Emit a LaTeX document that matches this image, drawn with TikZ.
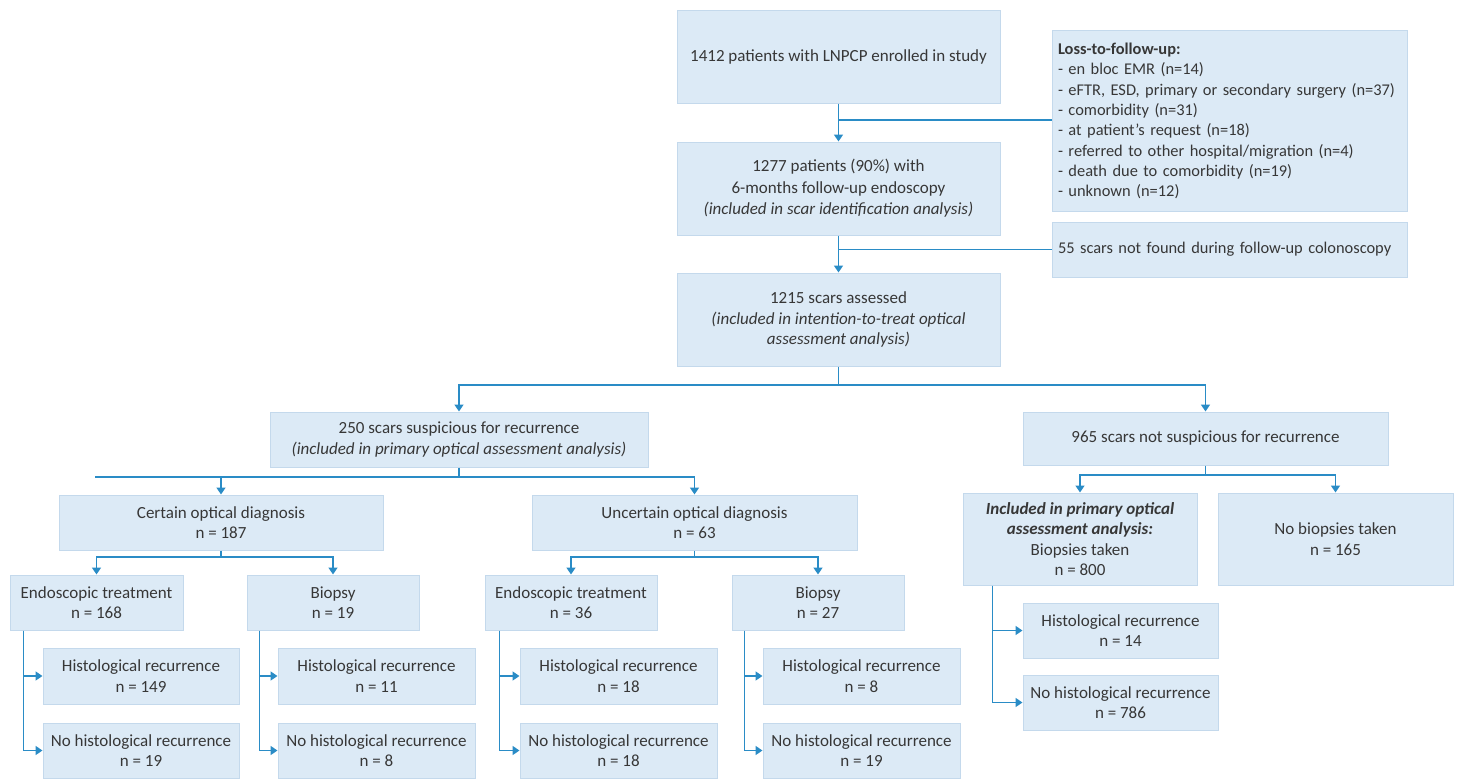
\documentclass[tikz,border=0pt]{standalone}
\usepackage{fontspec}
\setmainfont{Carlito}
\usetikzlibrary{arrows.meta}
\definecolor{boxfill}{RGB}{220,234,246}
\definecolor{boxline}{RGB}{196,217,236}
\definecolor{conn}{RGB}{42,140,198}
\definecolor{txt}{RGB}{55,55,55}
\tikzset{
  bx/.style={draw=boxline, line width=1pt, fill=boxfill, text=txt, align=center,
    inner sep=2pt, font=\fontsize{17}{20.5}\selectfont},
  lbx/.style={bx, align=left, text width=343, inner xsep=6pt, font=\fontsize{16.4}{20.3}\selectfont},
  ln/.style={draw=conn, line width=1.6pt},
  arr/.style={ln, -{Triangle[width=9pt,length=7pt]}},
}
\begin{document}
\begin{tikzpicture}[x=1pt,y=-1pt]
\useasboundingbox (0,0) rectangle (1481,780);
% top column
\node[bx, minimum width=323, minimum height=93] (b1) at (838.5,56.5) {1412 patients with LNPCP enrolled in study};
\node[bx, minimum width=323, minimum height=93, font=\fontsize{17}{21.5}\selectfont] (b2) at (838.5,188.5) {1277 patients (90\%) with\\6-months follow-up endoscopy\\\textit{(included in scar identification analysis)}};
\node[bx, minimum width=323, minimum height=93] (b3) at (838.5,319.5) {1215 scars assessed\\\textit{(included in intention-to-treat optical}\\\textit{assessment analysis)}};
\node[lbx, minimum width=355, minimum height=181] (loss) at (1229.5,121) {\textbf{Loss-to-follow-up:}\\- en bloc EMR (n=14)\\\mbox{- eFTR, ESD, primary or secondary surgery (n=37)}\\- comorbidity (n=31)\\- at patient's request (n=18)\\\mbox{- referred to other hospital/migration (n=4)}\\- death due to comorbidity (n=19)\\- unknown (n=12)};
\node[lbx, minimum width=355, minimum height=55] (s55) at (1229.5,249.5) {\mbox{55 scars not found during follow-up colonoscopy}};
% second level
\node[bx, minimum width=378, minimum height=55] (s250) at (459,439.5) {250 scars suspicious for recurrence\\\textit{(included in primary optical assessment analysis)}};
\node[bx, minimum width=365, minimum height=53] (s965) at (1205.5,438.5) {965 scars not suspicious for recurrence};
% third level
\node[bx, minimum width=324, minimum height=55] (cert) at (221,522.5) {Certain optical diagnosis\\n = 187};
\node[bx, minimum width=325, minimum height=55] (unc) at (694.5,522.5) {Uncertain optical diagnosis\\n = 63};
\node[bx, minimum width=234, minimum height=92] (incl) at (1080,539) {\textbf{\textit{Included in primary optical}}\\\textbf{\textit{assessment analysis:}}\\Biopsies taken\\n = 800};
\node[bx, minimum width=235, minimum height=92] (nob) at (1335.5,539) {No biopsies taken\\n = 165};
% fourth level
\node[bx, minimum width=173, minimum height=55] (e1) at (96.5,602.5) {Endoscopic treatment\\n = 168};
\node[bx, minimum width=172, minimum height=55] (bi1) at (333,602.5) {Biopsy\\n = 19};
\node[bx, minimum width=172, minimum height=55] (e2) at (571,602.5) {Endoscopic treatment\\n = 36};
\node[bx, minimum width=172, minimum height=55] (bi2) at (818,602.5) {Biopsy\\n = 27};
% leaves
\node[bx, minimum width=196, minimum height=56] (h1) at (141,676) {Histological recurrence\\n = 149};
\node[bx, minimum width=196, minimum height=55] (n1) at (141,750.5) {No histological recurrence\\n = 19};
\node[bx, minimum width=197, minimum height=56] (h2) at (376.5,676) {Histological recurrence\\n = 11};
\node[bx, minimum width=197, minimum height=55] (n2) at (376.5,750.5) {No histological recurrence\\n = 8};
\node[bx, minimum width=197, minimum height=56] (h3) at (618.5,676) {Histological recurrence\\n = 18};
\node[bx, minimum width=197, minimum height=55] (n3) at (618.5,750.5) {No histological recurrence\\n = 18};
\node[bx, minimum width=197, minimum height=56] (h4) at (861.5,676) {Histological recurrence\\n = 8};
\node[bx, minimum width=197, minimum height=55] (n4) at (861.5,750.5) {No histological recurrence\\n = 19};
\node[bx, minimum width=195, minimum height=55] (h5) at (1120.5,630.5) {Histological recurrence\\n = 14};
\node[bx, minimum width=195, minimum height=55] (n5) at (1120.5,702.5) {No histological recurrence\\n = 786};
% junction coordinates
\coordinate (j0) at (838.5,120);
\coordinate (j1) at (838.5,385);
\coordinate (j2) at (459,477);
\coordinate (stub) at (95,477);
\coordinate (j3) at (221,557);
\coordinate (j4) at (694.5,557);
\coordinate (j5) at (1205.5,475);
\coordinate (t1) at ([xshift=14pt]e1.south west);
\coordinate (t2) at ([xshift=13pt]bi1.south west);
\coordinate (t3) at ([xshift=15pt]e2.south west);
\coordinate (t4) at ([xshift=13pt]bi2.south west);
\coordinate (t5) at ([xshift=30pt]incl.south west);
% connectors
\draw[arr] (b1) -- (b2);
\draw[ln] (j0) -- (loss.west |- j0);
\draw[arr] (b2) -- (b3);
\draw[ln] (b2.south |- s55.west) -- (s55.west);
\draw[ln] (b3.south) -- (j1);
\draw[arr] (j1) -| (s250.north);
\draw[arr] (j1) -| (s965.north);
\draw[ln] (s250.south) -- (j2);
\draw[ln] (stub) -- (j2);
\draw[arr] (j2) -| (cert.north);
\draw[arr] (j2) -| (unc.north);
\draw[ln] (cert.south) -- (j3);
\draw[arr] (j3) -| (e1.north);
\draw[arr] (j3) -| (bi1.north);
\draw[ln] (unc.south) -- (j4);
\draw[arr] (j4) -| (e2.north);
\draw[arr] (j4) -| (bi2.north);
\draw[ln] (s965.south) -- (j5);
\draw[arr] (j5) -| (incl.north);
\draw[arr] (j5) -| (nob.north);
\draw[arr] (t1) |- (h1.west);
\draw[arr] (t1) |- (n1.west);
\draw[arr] (t2) |- (h2.west);
\draw[arr] (t2) |- (n2.west);
\draw[arr] (t3) |- (h3.west);
\draw[arr] (t3) |- (n3.west);
\draw[arr] (t4) |- (h4.west);
\draw[arr] (t4) |- (n4.west);
\draw[arr] (t5) |- (h5.west);
\draw[arr] (t5) |- (n5.west);
\end{tikzpicture}
\end{document}
